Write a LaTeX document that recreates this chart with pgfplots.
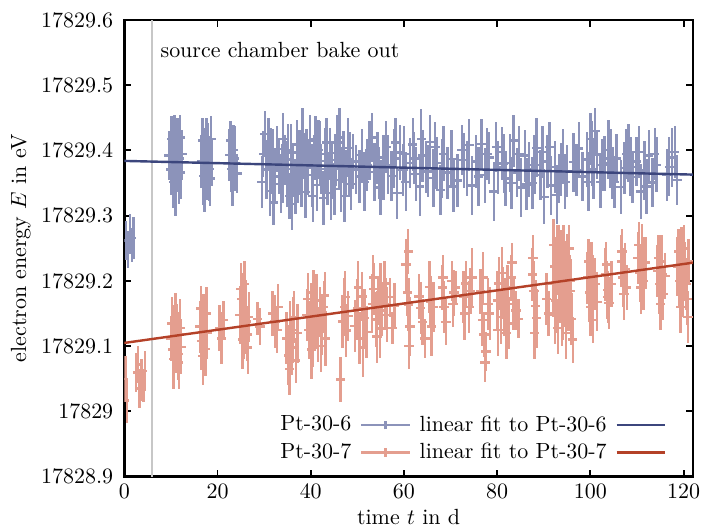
\documentclass[border=0pt]{standalone}
\usepackage{pgfplots}
\usepackage{pgfplotstable}
\pgfplotsset{compat=1.18}
\definecolor{ptblue}{RGB}{140,147,186}
\definecolor{fitblue}{RGB}{60,70,125}
\definecolor{ptred}{RGB}{228,158,143}
\definecolor{fitred}{RGB}{180,65,40}
% values are E - 17829 eV
\pgfplotstableread{
t e dt de
0.4 0.262 0.5 0.030
0.8 0.248 0.5 0.028
1.2 0.272 0.5 0.030
1.6 0.255 0.5 0.026
2.0 0.266 0.5 0.032
9.6 0.392 1.0 0.038
10.0 0.371 1.0 0.040
10.3 0.405 1.0 0.036
10.6 0.383 1.0 0.045
10.9 0.362 1.0 0.038
11.2 0.398 1.0 0.042
11.5 0.376 1.0 0.035
11.8 0.388 1.0 0.047
12.1 0.366 1.0 0.040
12.4 0.395 1.0 0.037
10.1 0.418 1.0 0.035
10.5 0.352 1.0 0.040
10.8 0.425 1.0 0.030
11.0 0.345 1.0 0.045
11.4 0.410 1.0 0.040
11.7 0.356 1.0 0.038
12.0 0.420 1.0 0.035
11.3 0.387 1.0 0.050
16.6 0.384 1.0 0.040
17.0 0.361 1.0 0.045
17.3 0.396 1.0 0.038
17.7 0.374 1.0 0.050
18.0 0.402 1.0 0.040
18.4 0.357 1.0 0.042
18.8 0.381 1.0 0.036
16.8 0.415 1.0 0.035
17.2 0.345 1.0 0.040
17.6 0.405 1.0 0.045
18.2 0.372 1.0 0.050
18.6 0.418 1.0 0.035
22.6 0.393 1.0 0.040
23.0 0.372 1.0 0.035
23.4 0.401 1.0 0.038
23.8 0.380 1.0 0.042
24.2 0.365 1.0 0.030
22.8 0.415 1.0 0.030
23.2 0.355 1.0 0.040
23.6 0.388 1.0 0.050
29.5 0.352 1.0 0.040
29.8 0.395 1.0 0.035
30.2 0.425 1.0 0.035
30.5 0.371 1.0 0.045
30.9 0.410 1.0 0.040
31.2 0.338 1.0 0.038
31.5 0.395 1.0 0.040
31.8 0.383 1.0 0.050
32.0 0.320 1.0 0.035
32.3 0.360 1.0 0.040
32.7 0.402 1.0 0.035
33.2 0.375 1.0 0.042
33.6 0.349 1.0 0.045
33.9 0.365 1.0 0.045
34.0 0.418 1.0 0.040
34.5 0.386 1.0 0.038
34.9 0.364 1.0 0.050
35.1 0.400 1.0 0.040
35.4 0.330 1.0 0.035
35.8 0.397 1.0 0.044
36.0 0.318 1.0 0.040
36.2 0.372 1.0 0.040
36.7 0.345 1.0 0.042
37.1 0.409 1.0 0.038
37.3 0.355 1.0 0.035
37.6 0.381 1.0 0.050
38.0 0.358 1.0 0.045
38.2 0.425 1.0 0.040
38.5 0.392 1.0 0.035
38.9 0.336 1.0 0.040
39.1 0.388 1.0 0.045
39.4 0.374 1.0 0.042
39.9 0.415 1.0 0.040
40.3 0.362 1.0 0.048
40.5 0.330 1.0 0.040
40.8 0.389 1.0 0.035
41.0 0.418 1.0 0.035
41.3 0.347 1.0 0.040
41.7 0.401 1.0 0.045
42.0 0.395 1.0 0.050
42.2 0.372 1.0 0.038
42.7 0.327 1.0 0.042
43.1 0.384 1.0 0.050
43.4 0.412 1.0 0.038
43.6 0.357 1.0 0.040
44.1 0.396 1.0 0.038
44.3 0.335 1.0 0.042
44.6 0.370 1.0 0.045
45.1 0.341 1.0 0.040
45.3 0.385 1.0 0.040
45.6 0.412 1.0 0.042
46.0 0.378 1.0 0.038
46.2 0.420 1.0 0.045
46.5 0.355 1.0 0.050
47.0 0.390 1.0 0.040
47.2 0.330 1.0 0.040
47.5 0.366 1.0 0.035
48.0 0.404 1.0 0.045
48.3 0.378 1.0 0.050
48.6 0.349 1.0 0.040
49.1 0.383 1.0 0.042
49.7 0.371 1.0 0.038
50.5 0.360 1.0 0.040
51.0 0.393 1.0 0.040
51.5 0.352 1.0 0.045
52.1 0.378 1.0 0.040
52.6 0.400 1.0 0.045
53.2 0.420 1.0 0.038
53.7 0.367 1.0 0.045
54.3 0.389 1.0 0.040
54.6 0.365 1.0 0.040
55.0 0.343 1.0 0.042
55.6 0.374 1.0 0.050
56.2 0.405 1.0 0.040
56.6 0.378 1.0 0.045
57.3 0.361 1.0 0.038
57.9 0.388 1.0 0.045
58.2 0.412 1.0 0.038
58.5 0.335 1.0 0.040
59.2 0.397 1.0 0.042
59.8 0.370 1.0 0.040
60.0 0.395 1.0 0.042
60.4 0.352 1.0 0.045
61.3 0.381 1.0 0.038
61.9 0.409 1.0 0.040
62.2 0.388 1.0 0.040
62.6 0.364 1.0 0.042
63.4 0.345 1.0 0.045
63.7 0.418 1.0 0.045
64.0 0.392 1.0 0.040
64.7 0.373 1.0 0.038
65.2 0.368 1.0 0.040
65.6 0.413 1.0 0.042
66.3 0.358 1.0 0.045
66.7 0.405 1.0 0.038
67.0 0.381 1.0 0.040
67.8 0.339 1.0 0.038
68.1 0.372 1.0 0.045
68.5 0.395 1.0 0.042
69.3 0.366 1.0 0.040
70.2 0.387 1.0 0.045
70.6 0.345 1.0 0.040
71.5 0.354 1.0 0.040
72.4 0.401 1.0 0.038
72.9 0.385 1.0 0.042
73.5 0.372 1.0 0.042
74.0 0.408 1.0 0.040
74.6 0.346 1.0 0.045
75.5 0.383 1.0 0.040
76.0 0.360 1.0 0.045
76.6 0.410 1.0 0.038
77.4 0.362 1.0 0.042
77.8 0.395 1.0 0.040
78.3 0.389 1.0 0.040
79.3 0.337 1.0 0.045
79.8 0.405 1.0 0.038
80.2 0.374 1.0 0.040
81.0 0.398 1.0 0.038
81.4 0.380 1.0 0.045
81.8 0.357 1.0 0.042
82.7 0.381 1.0 0.045
83.1 0.350 1.0 0.040
83.5 0.415 1.0 0.040
84.3 0.366 1.0 0.038
84.7 0.395 1.0 0.042
85.1 0.343 1.0 0.045
85.9 0.392 1.0 0.040
86.3 0.348 1.0 0.040
86.8 0.371 1.0 0.042
87.6 0.350 1.0 0.040
88.0 0.378 1.0 0.045
88.4 0.404 1.0 0.045
89.3 0.362 1.0 0.038
89.7 0.398 1.0 0.040
90.1 0.329 1.0 0.042
90.8 0.383 1.0 0.040
91.2 0.405 1.0 0.038
91.6 0.346 1.0 0.045
92.4 0.375 1.0 0.040
92.8 0.332 1.0 0.045
93.2 0.357 1.0 0.038
93.7 0.372 1.0 0.040
94.1 0.391 1.0 0.042
94.6 0.352 1.0 0.042
95.0 0.368 1.0 0.040
96.4 0.382 1.0 0.045
97.0 0.370 1.0 0.040
97.5 0.403 1.0 0.040
98.3 0.360 1.0 0.038
99.2 0.386 1.0 0.042
99.6 0.352 1.0 0.045
100.0 0.418 1.0 0.040
100.3 0.395 1.0 0.050
100.7 0.371 1.0 0.045
101.0 0.430 1.0 0.035
101.4 0.394 1.0 0.038
102.2 0.352 1.0 0.040
102.6 0.378 1.0 0.040
103.0 0.380 1.0 0.042
103.9 0.401 1.0 0.045
104.3 0.388 1.0 0.045
104.7 0.365 1.0 0.040
105.2 0.352 1.0 0.040
105.6 0.388 1.0 0.038
106.5 0.344 1.0 0.042
107.3 0.373 1.0 0.040
107.7 0.395 1.0 0.038
108.2 0.396 1.0 0.045
108.6 0.375 1.0 0.045
109.0 0.359 1.0 0.040
109.9 0.383 1.0 0.038
110.4 0.398 1.0 0.040
110.8 0.337 1.0 0.042
111.6 0.369 1.0 0.045
112.0 0.345 1.0 0.042
112.5 0.392 1.0 0.040
113.3 0.351 1.0 0.038
113.8 0.395 1.0 0.040
114.2 0.378 1.0 0.042
116.4 0.362 1.0 0.040
116.9 0.375 1.0 0.045
117.5 0.389 1.0 0.045
118.1 0.398 1.0 0.040
118.6 0.355 1.0 0.038
}\ptsix
\pgfplotstableread{
t e dt de
0.3 0.050 0.4 0.035
0.6 0.017 0.4 0.035
2.5 0.060 0.6 0.030
2.9 0.072 0.6 0.028
3.3 0.035 0.6 0.030
3.7 0.048 0.6 0.032
4.1 0.040 0.5 0.025
4.4 0.062 0.5 0.030
10.0 0.112 1.0 0.035
10.2 0.135 1.0 0.040
10.4 0.095 1.0 0.040
10.6 0.080 1.0 0.045
10.8 0.125 1.0 0.038
11.0 0.142 1.0 0.040
11.1 0.104 1.0 0.045
11.3 0.115 1.0 0.050
11.5 0.088 1.0 0.040
11.7 0.075 1.0 0.040
11.8 0.118 1.0 0.035
12.0 0.128 1.0 0.045
12.2 0.099 1.0 0.042
16.2 0.130 1.0 0.040
16.4 0.158 1.0 0.035
16.6 0.108 1.0 0.045
16.9 0.085 1.0 0.045
17.0 0.142 1.0 0.038
17.2 0.120 1.0 0.050
17.4 0.096 1.0 0.042
17.6 0.150 1.0 0.040
17.8 0.121 1.0 0.040
20.4 0.128 1.0 0.035
20.9 0.112 1.0 0.040
21.3 0.140 1.0 0.030
24.8 0.148 1.0 0.045
25.0 0.188 1.0 0.040
25.2 0.172 1.0 0.040
25.4 0.110 1.0 0.045
25.6 0.131 1.0 0.050
25.8 0.195 1.0 0.035
26.0 0.160 1.0 0.042
26.1 0.138 1.0 0.050
26.3 0.118 1.0 0.040
26.5 0.098 1.0 0.040
26.7 0.145 1.0 0.038
28.6 0.142 1.0 0.025
29.1 0.130 1.0 0.028
31.8 0.150 1.0 0.035
32.3 0.138 1.0 0.040
32.8 0.125 1.0 0.035
33.0 0.160 1.0 0.035
34.8 0.112 1.0 0.040
35.2 0.086 1.0 0.045
35.4 0.065 1.0 0.040
35.6 0.131 1.0 0.038
36.0 0.098 1.0 0.042
36.2 0.125 1.0 0.050
36.4 0.145 1.0 0.040
36.8 0.078 1.0 0.035
37.2 0.120 1.0 0.045
39.2 0.148 1.0 0.040
39.4 0.172 1.0 0.040
39.6 0.125 1.0 0.045
40.0 0.162 1.0 0.035
40.2 0.095 1.0 0.045
40.4 0.108 1.0 0.040
40.6 0.182 1.0 0.035
40.8 0.140 1.0 0.045
41.2 0.170 1.0 0.040
41.4 0.145 1.0 0.050
41.6 0.118 1.0 0.042
42.0 0.152 1.0 0.038
42.2 0.100 1.0 0.040
42.4 0.131 1.0 0.045
42.8 0.160 1.0 0.040
43.0 0.178 1.0 0.035
43.2 0.112 1.0 0.042
46.4 0.049 1.0 0.035
46.8 0.138 1.0 0.040
47.2 0.160 1.0 0.045
47.4 0.175 1.0 0.040
47.6 0.124 1.0 0.040
48.0 0.146 1.0 0.038
49.5 0.131 1.0 0.040
50.0 0.158 1.0 0.045
50.2 0.190 1.0 0.040
50.5 0.112 1.0 0.040
51.0 0.176 1.0 0.038
51.2 0.098 1.0 0.045
51.5 0.143 1.0 0.045
52.0 0.122 1.0 0.040
53.2 0.165 1.0 0.045
53.4 0.205 1.0 0.035
53.6 0.188 1.0 0.040
54.0 0.141 1.0 0.042
54.2 0.115 1.0 0.040
54.4 0.170 1.0 0.038
54.8 0.127 1.0 0.045
55.0 0.182 1.0 0.045
55.3 0.155 1.0 0.040
55.8 0.196 1.0 0.035
56.0 0.165 1.0 0.040
56.3 0.148 1.0 0.042
57.0 0.175 1.0 0.030
57.5 0.128 1.0 0.025
58.0 0.162 1.0 0.035
60.4 0.225 1.0 0.040
60.7 0.182 1.0 0.035
60.9 0.245 1.0 0.035
61.0 0.164 1.0 0.040
61.1 0.100 1.0 0.035
61.3 0.130 1.0 0.045
63.2 0.176 1.0 0.035
63.6 0.159 1.0 0.040
64.0 0.137 1.0 0.035
64.5 0.112 1.0 0.030
65.5 0.191 1.0 0.040
65.7 0.168 1.0 0.040
65.9 0.130 1.0 0.045
66.3 0.160 1.0 0.038
68.2 0.190 1.0 0.035
68.4 0.205 1.0 0.035
68.6 0.160 1.0 0.040
69.0 0.137 1.0 0.035
70.3 0.200 1.0 0.030
70.5 0.165 1.0 0.035
70.7 0.182 1.0 0.035
71.1 0.190 1.0 0.025
72.8 0.175 1.0 0.040
73.0 0.150 1.0 0.040
73.3 0.196 1.0 0.035
74.0 0.160 1.0 0.040
74.3 0.185 1.0 0.035
74.6 0.205 1.0 0.045
76.4 0.184 1.0 0.035
76.8 0.140 1.0 0.040
77.0 0.205 1.0 0.040
77.2 0.118 1.0 0.035
77.4 0.075 1.0 0.030
77.6 0.092 1.0 0.030
78.0 0.165 1.0 0.040
78.4 0.150 1.0 0.040
80.0 0.170 1.0 0.045
80.2 0.125 1.0 0.040
80.4 0.196 1.0 0.040
80.8 0.145 1.0 0.042
81.0 0.212 1.0 0.040
81.2 0.182 1.0 0.040
81.6 0.160 1.0 0.045
82.0 0.120 1.0 0.040
82.2 0.190 1.0 0.035
82.5 0.135 1.0 0.040
83.0 0.205 1.0 0.035
83.2 0.228 1.0 0.030
83.5 0.165 1.0 0.040
84.0 0.155 1.0 0.030
84.6 0.142 1.0 0.030
87.6 0.210 1.0 0.040
87.7 0.235 1.0 0.035
87.9 0.185 1.0 0.045
88.0 0.120 1.0 0.040
88.2 0.162 1.0 0.040
88.5 0.143 1.0 0.045
90.6 0.172 1.0 0.040
91.0 0.150 1.0 0.035
92.0 0.195 1.0 0.050
92.1 0.255 1.0 0.040
92.3 0.222 1.0 0.045
92.4 0.148 1.0 0.045
92.6 0.170 1.0 0.050
92.7 0.218 1.0 0.040
92.9 0.240 1.0 0.045
93.0 0.128 1.0 0.040
93.2 0.205 1.0 0.050
93.3 0.250 1.0 0.035
93.5 0.180 1.0 0.045
93.6 0.195 1.0 0.045
93.8 0.228 1.0 0.050
93.9 0.140 1.0 0.040
94.1 0.155 1.0 0.045
94.2 0.245 1.0 0.040
94.4 0.212 1.0 0.050
94.5 0.175 1.0 0.045
94.7 0.190 1.0 0.045
94.8 0.120 1.0 0.040
95.0 0.232 1.0 0.040
95.1 0.210 1.0 0.050
95.3 0.168 1.0 0.045
95.4 0.250 1.0 0.035
95.6 0.200 1.0 0.040
95.7 0.185 1.0 0.045
95.9 0.142 1.0 0.040
96.2 0.110 1.0 0.035
99.4 0.205 1.0 0.040
99.6 0.230 1.0 0.035
99.8 0.182 1.0 0.045
100.0 0.160 1.0 0.045
100.2 0.220 1.0 0.040
100.4 0.200 1.0 0.040
100.6 0.140 1.0 0.035
101.0 0.195 1.0 0.040
101.4 0.168 1.0 0.045
103.2 0.210 1.0 0.040
103.4 0.225 1.0 0.035
103.6 0.186 1.0 0.045
103.8 0.175 1.0 0.040
104.0 0.166 1.0 0.040
104.5 0.195 1.0 0.035
106.6 0.230 1.0 0.040
106.8 0.245 1.0 0.035
107.0 0.205 1.0 0.045
107.2 0.180 1.0 0.040
107.4 0.218 1.0 0.040
107.8 0.190 1.0 0.035
110.2 0.235 1.0 0.040
110.4 0.255 1.0 0.035
110.6 0.212 1.0 0.045
110.8 0.190 1.0 0.040
111.0 0.248 1.0 0.040
111.2 0.222 1.0 0.045
111.4 0.200 1.0 0.045
111.8 0.228 1.0 0.040
114.4 0.215 1.0 0.040
114.6 0.235 1.0 0.035
114.8 0.195 1.0 0.045
115.0 0.165 1.0 0.040
115.2 0.230 1.0 0.040
115.4 0.210 1.0 0.045
115.6 0.180 1.0 0.040
116.0 0.208 1.0 0.035
118.7 0.222 1.0 0.045
118.9 0.245 1.0 0.035
119.1 0.200 1.0 0.040
119.3 0.160 1.0 0.040
119.5 0.238 1.0 0.045
119.7 0.205 1.0 0.045
119.9 0.185 1.0 0.040
120.1 0.250 1.0 0.035
120.3 0.215 1.0 0.045
120.5 0.195 1.0 0.040
120.7 0.172 1.0 0.040
120.9 0.145 1.0 0.040
121.0 0.230 1.0 0.035
}\ptseven
\begin{document}
\begin{tikzpicture}
\begin{axis}[
  scale only axis,
  width=259pt, height=208pt,
  xmin=0, xmax=122,
  ymin=-0.1, ymax=0.6,
  xtick={0,20,40,60,80,100,120},
  ytick={-0.1,0,0.1,0.2,0.3,0.4,0.5,0.6},
  yticklabels={17828.9,17829,17829.1,17829.2,17829.3,17829.4,17829.5,17829.6},
  tick align=inside,
  major tick length=3.2pt,
  minor tick num=0,
  axis line style={line width=1.2pt},
  every tick/.style={black, line width=0.9pt},
  yticklabel style={xshift=-1.5pt},
  xlabel={time $t$ in d},
  ylabel={electron energy $E$ in eV},
  xlabel style={yshift=2pt},
  ylabel style={yshift=-2pt},
  legend columns=2,
  legend plot pos=right,
  legend cell align=right,
  legend style={draw=none, fill=none, at={(rel axis cs:1,0)}, anchor=south east,
    xshift=-9pt, yshift=2.5pt, row sep=0pt,
    /tikz/every odd column/.append style={column sep=2pt},
    /tikz/every even column/.append style={column sep=2pt}},
]
\draw[black!22, line width=1pt] (axis cs:5.9,-0.1) -- (axis cs:5.9,0.6);
\node[anchor=base west, inner sep=0pt] at (axis cs:7.7,0.543) {source chamber bake out};
\addplot[draw=none, mark=none,
  legend image code/.code={\draw[ptblue, line width=1.1pt] (0pt,0pt) -- (22pt,0pt); \draw[ptblue, line width=1.1pt] (11pt,-2pt) -- (11pt,2pt);},
  error bars/.cd, x dir=both, x explicit, y dir=both, y explicit, error mark=none,
  error bar style={line width=1.1pt, draw=ptblue}]
  table[x=t, y=e, x error=dt, y error=de] {\ptsix};
\addlegendentry{Pt-30-6}
\addplot[fitblue, line width=1.1pt, no marks,
  legend image code/.code={\draw[fitblue, line width=1.1pt] (0pt,0pt) -- (22pt,0pt);}]
  coordinates {(0,0.384) (122,0.363)};
\addlegendentry{linear fit to Pt-30-6}
\addplot[draw=none, mark=none,
  legend image code/.code={\draw[ptred, line width=1.1pt] (0pt,0pt) -- (22pt,0pt); \draw[ptred, line width=1.1pt] (11pt,-2pt) -- (11pt,2pt);},
  error bars/.cd, x dir=both, x explicit, y dir=both, y explicit, error mark=none,
  error bar style={line width=1.1pt, draw=ptred}]
  table[x=t, y=e, x error=dt, y error=de] {\ptseven};
\addlegendentry{Pt-30-7}
\addplot[fitred, line width=1.1pt, no marks,
  legend image code/.code={\draw[fitred, line width=1.1pt] (0pt,0pt) -- (22pt,0pt);}]
  coordinates {(0,0.105) (122,0.228)};
\addlegendentry{linear fit to Pt-30-7}
\end{axis}
\pgfresetboundingbox
\path[use as bounding box] ([xshift=-56.6pt,yshift=-22.4pt]current axis.south west) rectangle ([xshift=4.1pt,yshift=9.1pt]current axis.north east);
\end{tikzpicture}
\end{document}
